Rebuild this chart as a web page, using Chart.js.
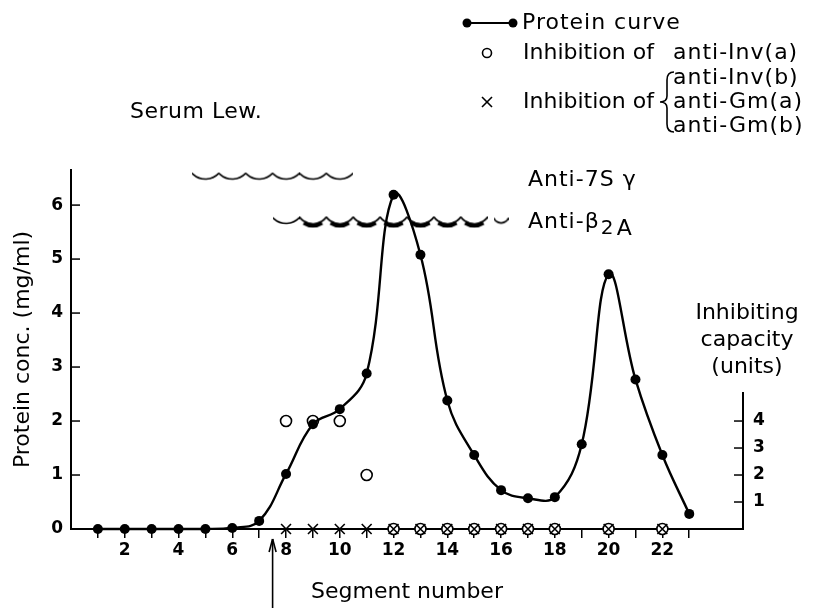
<!DOCTYPE html>
<html lang="en">
<head>
<meta charset="UTF-8">
<title>Serum Lew. protein curve</title>
<script src="https://cdn.jsdelivr.net/npm/chart.js"></script>
<style>
  html, body { margin: 0; padding: 0; background: #fff; }
  #wrap { position: relative; width: 815px; height: 608px; }
</style>
</head>
<body>
<div id="wrap"><canvas id="proteinChart"></canvas></div>

<script>
// segment numbers and protein concentration (mg/ml)
const segments = [1, 2, 3, 4, 5, 6, 7, 8, 9, 10, 11, 12, 13, 14, 15, 16, 17, 18, 19, 20, 21, 22, 23];
const proteinConc = [0, 0, 0, 0, 0, 0.02, 0.15, 1.02, 1.94, 2.22, 2.88, 6.19, 5.08, 2.38, 1.37, 0.72, 0.57, 0.59, 1.57, 4.72, 2.77, 1.37, 0.28];

// inhibiting capacity (units)
const invASegments = [8, 9, 10, 11, 12, 13, 14, 15, 16, 17, 18, 20, 22];
const invAUnits = [4, 4, 4, 2, 0, 0, 0, 0, 0, 0, 0, 0, 0];
const otherSegments = [8, 9, 10, 11, 12, 13, 14, 15, 16, 17, 18, 20, 22];
const otherUnits = [0, 0, 0, 0, 0, 0, 0, 0, 0, 0, 0, 0, 0];

// precipitation bands
const anti7SSegments = [5, 6, 7, 8, 9, 10];
const anti7SLevel = [6.51, 6.51, 6.51, 6.51, 6.51, 6.51];
const antiB2ASegments = [8, 9, 10, 11, 12, 13, 14, 15, 16];
const antiB2ALevel = [5.69, 5.69, 5.69, 5.69, 5.69, 5.69, 5.69, 5.69, 5.69];

// axes
const xTicks = [1, 2, 3, 4, 5, 6, 7, 8, 9, 10, 11, 12, 13, 14, 15, 16, 17, 18, 19, 20, 21, 22, 23];
const yTicks = [0, 1, 2, 3, 4, 5, 6];
const unitTicks = [1, 2, 3, 4];
const xMax = 25;
const proteinMax = 6.65;
const unitsPerMg = 2;
const unitAxisTop = 5.08;
const arrowSegment = 7.5;

const FONT = "'DejaVu Sans'";
Chart.defaults.font.family = FONT;
Chart.defaults.color = '#000';

function toPoints(xs, ys) {
    return xs.map((v, i) => ({ x: v, y: ys[i] }));
}

// little arcs used for the precipitation lines
function scallop(w, depth, thick) {
    const c = document.createElement('canvas');
    c.width = w;
    c.height = depth + 6;
    const g = c.getContext('2d');
    const top = 1.5;
    const r = (w * w / 4 + depth * depth) / (2 * depth);
    const cx = w / 2, cy = top + depth - r;
    const a = Math.asin((w / 2) / r);
    g.strokeStyle = '#000';
    g.lineWidth = 1.7;
    g.beginPath();
    g.arc(cx, cy, r, Math.PI / 2 - a, Math.PI / 2 + a);
    g.stroke();
    if (thick) {
        g.lineWidth = 4.5;
        g.beginPath();
        g.arc(cx, cy + 1.5, r, Math.PI / 2 - a * 0.6, Math.PI / 2 + a * 0.6);
        g.stroke();
    }
    return c;
}

const thinArc = scallop(27, 6, false);
const thickArc = scallop(27, 7, true);
const smallArc = scallop(15, 5, false);

function line(ctx, x1, y1, x2, y2) {
    ctx.beginPath();
    ctx.moveTo(x1, y1);
    ctx.lineTo(x2, y2);
    ctx.stroke();
}

const annotations = {
    id: 'annotations',
    afterDraw(chart) {
        const { ctx, chartArea, scales: { x, y, y2 } } = chart;
        ctx.save();
        ctx.strokeStyle = '#000';
        ctx.fillStyle = '#000';

        // inward ticks on the protein axis
        ctx.lineWidth = 1.5;
        yTicks.forEach(v => {
            const py = y.getPixelForValue(v);
            line(ctx, chartArea.left, py, chartArea.left + 9, py);
        });

        // short right axis for inhibiting capacity
        const rx = chartArea.right;
        ctx.lineWidth = 2;
        line(ctx, rx, y2.getPixelForValue(0) + 1, rx, y2.getPixelForValue(unitAxisTop));
        ctx.lineWidth = 1.5;
        unitTicks.forEach(v => {
            const py = y2.getPixelForValue(v);
            line(ctx, rx - 9, py, rx, py);
        });

        // arrow under the axis
        const ax = x.getPixelForValue(arrowSegment);
        ctx.lineWidth = 1.6;
        line(ctx, ax, 608, ax, 539);
        line(ctx, ax, 539, ax - 3.5, 552);
        line(ctx, ax, 539, ax + 3.5, 552);

        ctx.textBaseline = 'middle';
        ctx.textAlign = 'left';
        ctx.font = '22px ' + FONT;

        ctx.letterSpacing = '0.5px';
        ctx.fillText('Serum Lew.', 130, 112);

        // legend
        ctx.lineWidth = 2.2;
        line(ctx, 467, 23, 513, 23);
        [467, 513].forEach(px => {
            ctx.beginPath();
            ctx.arc(px, 23, 4.5, 0, Math.PI * 2);
            ctx.fill();
        });
        ctx.letterSpacing = '1px';
        ctx.fillText('Protein curve', 522, 23);

        ctx.lineWidth = 1.6;
        ctx.beginPath();
        ctx.arc(487, 53, 4.5, 0, Math.PI * 2);
        ctx.stroke();
        ctx.letterSpacing = '0px';
        ctx.fillText('Inhibition of', 523, 53);
        ctx.letterSpacing = '1px';
        ctx.fillText('anti-Inv(a)', 673, 53);

        line(ctx, 482, 97, 492, 107);
        line(ctx, 482, 107, 492, 97);
        ctx.letterSpacing = '0px';
        ctx.fillText('Inhibition of', 523, 102);

        // brace
        ctx.lineWidth = 1.6;
        ctx.beginPath();
        ctx.moveTo(674, 72);
        ctx.quadraticCurveTo(667, 72, 667, 80);
        ctx.lineTo(667, 96);
        ctx.quadraticCurveTo(667, 102, 660, 102);
        ctx.quadraticCurveTo(667, 102, 667, 108);
        ctx.lineTo(667, 124);
        ctx.quadraticCurveTo(667, 132, 674, 132);
        ctx.stroke();
        ctx.letterSpacing = '1px';
        ctx.fillText('anti-Inv(b)', 673, 78);
        ctx.fillText('anti-Gm(a)', 673, 102);
        ctx.fillText('anti-Gm(b)', 673, 126);

        // precipitation line labels
        ctx.fillText('Anti-7S \u03b3', 528, 180);
        ctx.fillText('Anti-\u03b2', 528, 222);
        const bw = ctx.measureText('Anti-\u03b2').width;
        ctx.font = '20px ' + FONT;
        ctx.fillText('2', 528 + bw + 1, 229);
        ctx.font = '22px ' + FONT;
        ctx.fillText('A', 528 + bw + 17, 229);

        // right axis title
        ctx.letterSpacing = '0px';
        ctx.textAlign = 'center';
        ctx.fillText('Inhibiting', 747, 313);
        ctx.fillText('capacity', 747, 340);
        ctx.fillText('(units)', 747, 367);

        ctx.restore();
    }
};

const ctx = document.getElementById('proteinChart').getContext('2d');
const proteinChart = new Chart(ctx, {
    type: 'line',
    data: {
        datasets: [
            {
                label: 'Protein curve',
                data: toPoints(segments, proteinConc),
                yAxisID: 'y',
                borderColor: '#000',
                borderWidth: 2.4,
                tension: 0.4,
                pointRadius: 5,
                pointBackgroundColor: '#000',
                pointBorderWidth: 0,
                clip: false,
                order: 0
            },
            {
                label: 'Inhibition of anti-Inv(a)',
                data: toPoints(invASegments, invAUnits),
                yAxisID: 'y2',
                showLine: false,
                pointStyle: 'circle',
                pointRadius: 5.5,
                pointBackgroundColor: '#fff',
                pointBorderColor: '#000',
                pointBorderWidth: 1.6,
                clip: false,
                order: 2
            },
            {
                label: 'Inhibition of anti-Inv(b), anti-Gm(a), anti-Gm(b)',
                data: toPoints(otherSegments, otherUnits),
                yAxisID: 'y2',
                showLine: false,
                pointStyle: 'crossRot',
                pointRadius: 7,
                pointBorderColor: '#000',
                pointBorderWidth: 1.6,
                clip: false,
                order: 1
            },
            {
                label: 'Anti-7S gamma',
                data: toPoints(anti7SSegments, anti7SLevel),
                yAxisID: 'y',
                showLine: false,
                pointStyle: thinArc,
                clip: false,
                order: 3
            },
            {
                label: 'Anti-beta2A',
                data: toPoints(antiB2ASegments, antiB2ALevel),
                yAxisID: 'y',
                showLine: false,
                pointStyle: c => c.dataIndex === 0 ? thinArc
                    : (c.dataIndex === antiB2ASegments.length - 1 ? smallArc : thickArc),
                clip: false,
                order: 3
            }
        ]
    },
    options: {
        responsive: true,
        maintainAspectRatio: false,
        animation: false,
        layout: { padding: { top: 170, left: 0, right: 0, bottom: 0 } },
        plugins: {
            legend: { display: false },
            tooltip: { enabled: false }
        },
        scales: {
            x: {
                type: 'linear',
                min: 0,
                max: xMax,
                afterBuildTicks: s => { s.ticks = xTicks.map(v => ({ value: v })); },
                afterFit: s => { s.height = 79; },
                ticks: {
                    autoSkip: false,
                    maxRotation: 0,
                    padding: 2,
                    font: { size: 17, weight: 'bold' },
                    callback: v => (v % 2 === 0 ? String(v) : '')
                },
                grid: {
                    drawOnChartArea: false,
                    drawTicks: true,
                    tickLength: 9,
                    color: '#000',
                    lineWidth: 1.5
                },
                border: { display: true, color: '#000', width: 2 },
                title: {
                    display: true,
                    text: 'Segment number',
                    font: { size: 22 },
                    padding: { top: 0, bottom: 3 }
                }
            },
            y: {
                position: 'left',
                min: 0,
                max: proteinMax,
                afterBuildTicks: s => { s.ticks = yTicks.map(v => ({ value: v })); },
                afterFit: s => { s.width = 71; },
                ticks: { padding: 8, font: { size: 17, weight: 'bold' } },
                grid: { display: false, drawTicks: false },
                border: { display: true, color: '#000', width: 2 },
                title: {
                    display: true,
                    text: 'Protein conc. (mg/ml)',
                    font: { size: 22 },
                    padding: { top: 10, bottom: 0 }
                }
            },
            y2: {
                position: 'right',
                min: 0,
                max: proteinMax * unitsPerMg,
                afterBuildTicks: s => { s.ticks = unitTicks.map(v => ({ value: v })); },
                afterFit: s => { s.width = 72; },
                ticks: { padding: 10, font: { size: 17, weight: 'bold' } },
                grid: { display: false, drawTicks: false },
                border: { display: false }
            }
        }
    },
    plugins: [annotations]
});
</script>
</body>
</html>
